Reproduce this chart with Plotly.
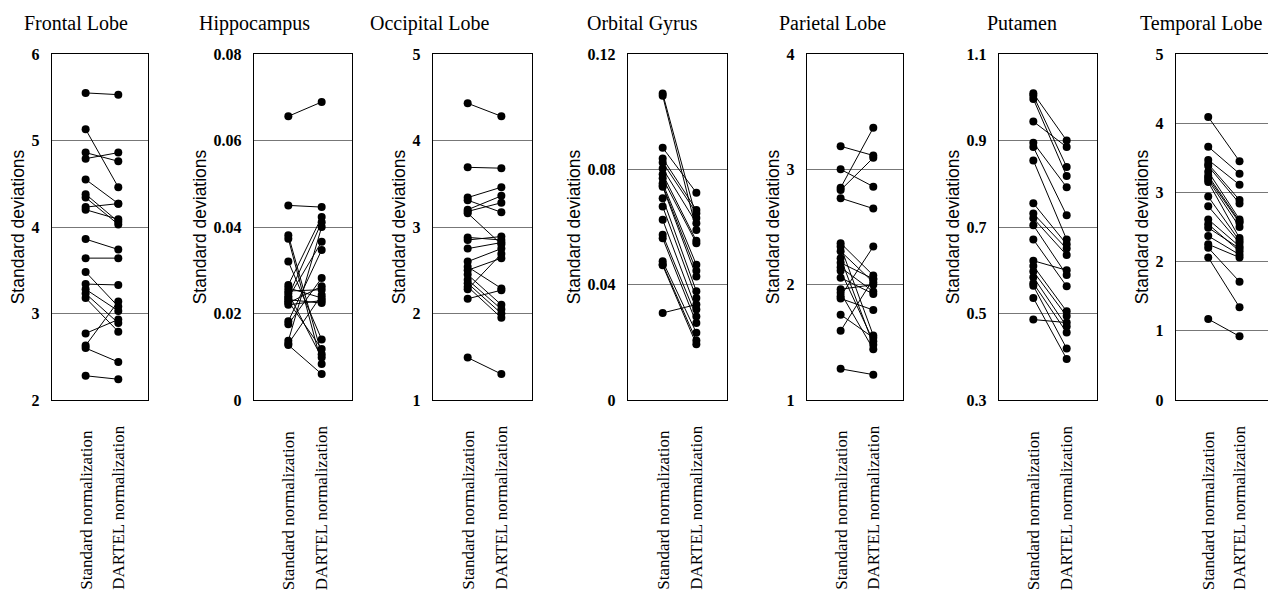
import plotly.graph_objects as go

# ---------------- data ----------------
regions = ["Frontal Lobe", "Hippocampus", "Occipital Lobe", "Orbital Gyrus",
           "Parietal Lobe", "Putamen", "Temporal Lobe"]
methods = ["Standard normalization", "DARTEL normalization"]
y_title = "Standard deviations"

frontal_std = [5.55, 5.13, 4.86, 4.79, 4.55, 4.38, 4.34, 4.23, 4.20, 3.86,
               3.64, 3.48, 3.34, 3.28, 3.23, 3.18, 2.77, 2.63, 2.60, 2.28]
frontal_dartel = [5.53, 4.46, 4.76, 4.86, 4.27, 4.06, 4.03, 4.27, 4.09, 3.74,
                  3.64, 3.08, 3.33, 3.03, 2.89, 2.79, 2.93, 3.14, 2.44, 2.24]

hippo_std = [0.0656, 0.0450, 0.0381, 0.0373, 0.0320, 0.0266, 0.0259, 0.0252, 0.0247, 0.0240,
             0.0236, 0.0232, 0.0228, 0.0224, 0.0220, 0.0182, 0.0175, 0.0137, 0.0130, 0.0127]
hippo_dartel = [0.0689, 0.0446, 0.0106, 0.0083, 0.0140, 0.0423, 0.0236, 0.0255, 0.0098, 0.0411,
                0.0366, 0.0224, 0.0118, 0.0263, 0.0230, 0.0347, 0.0282, 0.0400, 0.0243, 0.0060]

occipital_std = [4.43, 3.69, 3.34, 3.31, 3.20, 3.18, 3.16, 2.88, 2.85, 2.75,
                 2.60, 2.54, 2.50, 2.45, 2.39, 2.35, 2.31, 2.28, 2.17, 1.49]
occipital_dartel = [4.28, 3.68, 3.46, 3.17, 3.36, 3.28, 2.80, 2.85, 2.89, 2.82,
                    2.75, 2.29, 2.64, 2.10, 2.05, 2.00, 1.95, 2.69, 2.27, 1.30]

orbital_std = [0.1063, 0.1055, 0.0875, 0.0838, 0.0824, 0.0803, 0.0783, 0.0769, 0.0752, 0.0744,
               0.0740, 0.0700, 0.0671, 0.0625, 0.0573, 0.0561, 0.0481, 0.0471, 0.0467, 0.0302]
orbital_dartel = [0.0631, 0.0590, 0.0719, 0.0659, 0.0648, 0.0613, 0.0552, 0.0544, 0.0469, 0.0448,
                  0.0428, 0.0377, 0.0354, 0.0314, 0.0290, 0.0267, 0.0233, 0.0206, 0.0193, 0.0331]

parietal_std = [3.20, 3.00, 2.84, 2.82, 2.75, 2.36, 2.33, 2.29, 2.23, 2.19,
                2.15, 2.12, 2.06, 1.96, 1.93, 1.90, 1.88, 1.74, 1.60, 1.27]
parietal_dartel = [3.12, 2.85, 3.36, 3.10, 2.66, 2.08, 1.56, 2.02, 1.48, 2.05,
                   1.94, 1.51, 1.92, 2.00, 1.44, 2.33, 1.78, 1.54, 2.05, 1.22]

putamen_std = [1.009, 1.004, 0.996, 0.944, 0.895, 0.885, 0.854, 0.755, 0.731, 0.720,
               0.704, 0.671, 0.622, 0.610, 0.597, 0.584, 0.570, 0.564, 0.536, 0.486]
putamen_dartel = [0.900, 0.839, 0.818, 0.885, 0.792, 0.727, 0.671, 0.660, 0.650, 0.635,
                  0.589, 0.563, 0.600, 0.505, 0.494, 0.470, 0.456, 0.419, 0.395, 0.479]

temporal_std = [4.09, 3.66, 3.47, 3.41, 3.38, 3.30, 3.24, 3.21, 3.18, 3.15,
                2.94, 2.80, 2.61, 2.54, 2.49, 2.37, 2.25, 2.20, 2.06, 1.17]
temporal_dartel = [3.45, 3.27, 3.11, 2.89, 2.84, 2.61, 2.58, 2.56, 2.50, 2.34,
                   2.30, 2.27, 2.22, 2.15, 2.19, 2.10, 2.06, 1.71, 1.34, 0.92]

y_ranges = [[2, 6], [0, 0.08], [1, 5], [0, 0.12], [1, 4], [0.3, 1.1], [0, 5]]
y_dticks = [1, 0.02, 1, 0.04, 1, 0.2, 1]

std_series = [frontal_std, hippo_std, occipital_std, orbital_std,
              parietal_std, putamen_std, temporal_std]
dartel_series = [frontal_dartel, hippo_dartel, occipital_dartel, orbital_dartel,
                 parietal_dartel, putamen_dartel, temporal_dartel]

# ---------------- layout geometry (window pixels) ----------------
W, H = 1268, 603
box_left = [52, 254, 433, 628, 807, 999, 1176]
box_right = [148, 352, 532, 727, 903, 1097, 1268]
box_top, box_bottom = 54, 400
title_left = [22, 197, 368, 585, 777, 985, 1138]
title_y = 23
label_bottom = 592


def px(x):
    return x / W


def py(y):
    return 1 - y / H


SERIF = "Liberation Serif, Times New Roman, serif"
SANS = "Liberation Sans, Arial, sans-serif"

fig = go.Figure()

for i in range(7):
    ax = "" if i == 0 else str(i + 1)
    xs, ys = [], []
    for a, b in zip(std_series[i], dartel_series[i]):
        xs += [0, 1, None]
        ys += [a, b, None]
    fig.add_trace(go.Scatter(
        x=xs, y=ys, mode="lines+markers",
        line=dict(color="black", width=1),
        marker=dict(color="black", size=8),
        xaxis="x" + ax, yaxis="y" + ax, showlegend=False, hoverinfo="skip",
    ))

    last = (i == 6)
    fig.update_layout(**{
        "xaxis" + ax: dict(
            domain=[px(box_left[i]), min(1.0, px(box_right[i]))],
            range=[-1.03, 1.91], showgrid=False, zeroline=False,
            showticklabels=False, ticks="", showline=True, mirror=True,
            linecolor="black", linewidth=1.2, fixedrange=True,
            anchor="y" + ax,
        ),
        "yaxis" + ax: dict(
            domain=[py(box_bottom), py(box_top)],
            range=y_ranges[i], tick0=y_ranges[i][0], dtick=y_dticks[i],
            showgrid=True, gridcolor="#555555", gridwidth=0.8,
            zeroline=False, ticks="", showline=True,
            mirror=False if last else True,
            linecolor="black", linewidth=1.2, fixedrange=True,
            tickfont=dict(family=SERIF, size=16, color="black", weight="bold"),
            ticklabelstandoff=8,
            title=dict(text=y_title, font=dict(family=SANS, size=17.5, color="black"),
                       standoff=2),
            automargin=False,
            anchor="x" + ax,
        ),
    })

    fig.add_annotation(
        text=regions[i], xref="paper", yref="paper",
        x=px(title_left[i]), y=py(title_y), xanchor="left", yanchor="middle",
        showarrow=False, font=dict(family=SERIF, size=20, color="black"),
    )
    for k, m in enumerate(methods):
        fig.add_annotation(
            text=m, xref="x" + ax, yref="paper", x=k, y=py(label_bottom),
            xanchor="center", yanchor="bottom", textangle=-90, showarrow=False,
            font=dict(family=SERIF, size=17, color="black"),
        )

fig.update_layout(
    width=W, height=H, margin=dict(l=0, r=0, t=0, b=0),
    paper_bgcolor="white", plot_bgcolor="white",
)

fig.write_html(
    "out.html",
    config={"displayModeBar": False, "staticPlot": True},
    post_script="document.body.style.margin='0px';document.body.style.overflow='hidden';",
)
